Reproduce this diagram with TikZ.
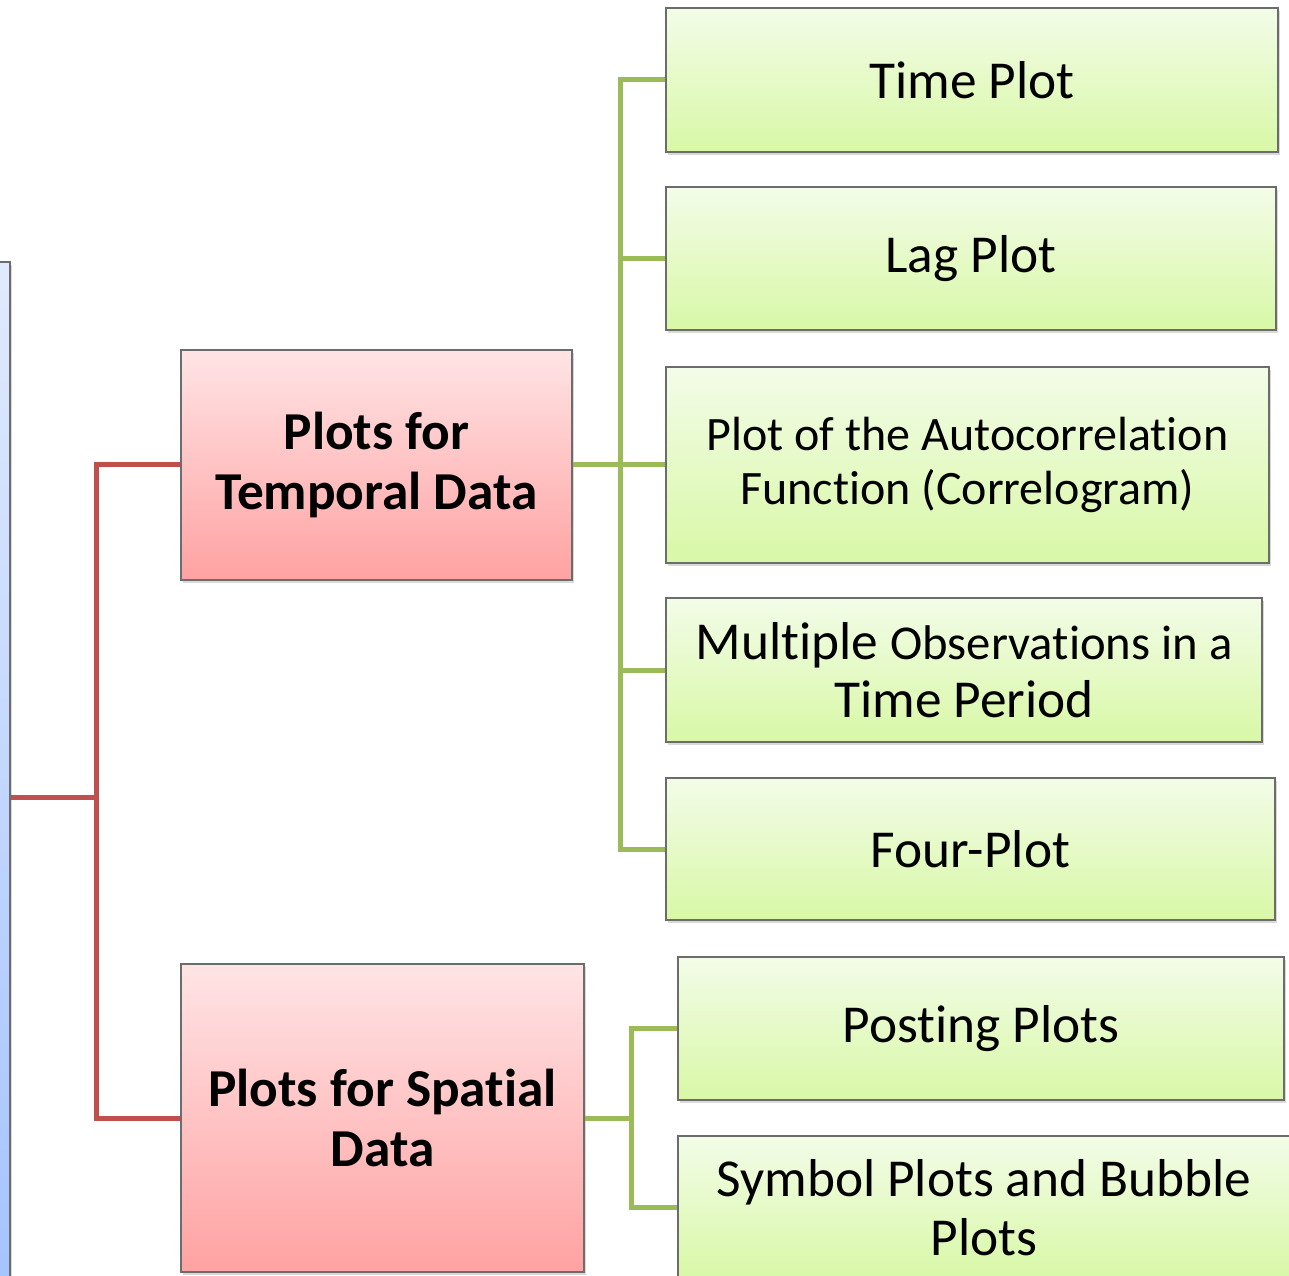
\documentclass[tikz,border=0pt]{standalone}
\usepackage{fontspec}
\setmainfont[RawFeature={-liga;-clig;-calt;-dlig}]{Carlito}
\usetikzlibrary{shadows}

\definecolor{redtop}{HTML}{FFE4E5}
\definecolor{redbot}{HTML}{FFA2A2}
\definecolor{greentop}{HTML}{F3FCE8}
\definecolor{greenbot}{HTML}{D8F8A6}
\definecolor{bluetop}{HTML}{E0EAFF}
\definecolor{bluebot}{HTML}{9FBFFF}
\definecolor{redline}{HTML}{C0504D}
\definecolor{greenline}{HTML}{9BBB59}

\begin{document}
\begin{tikzpicture}[x=0.75pt,y=-0.75pt,line join=miter,
  box/.style={draw=gray!85!black,line width=0.9pt,inner sep=0pt,align=center,
    drop shadow={opacity=0.3,shadow xshift=1.5pt,shadow yshift=-2.5pt}},
  main node/.style={box,top color=redtop,bottom color=redbot,
    font=\fontsize{40}{45}\selectfont\bfseries},
  leaf node/.style={box,top color=greentop,bottom color=greenbot,
    font=\fontsize{40}{44}\selectfont},
  red link/.style={draw=redline,line width=3.75pt},
  green link/.style={draw=greenline,line width=3.75pt}]

  \useasboundingbox (0,0) rectangle (1289,1276);
  \clip (0,0) rectangle (1289,1276);

  \node[box,top color=bluetop,bottom color=bluebot,minimum width=157.5pt,minimum height=853.5pt] (root) at (-95,831) {};

  \node[main node,minimum width=293.25pt,minimum height=172.5pt] (temporal) at (376.5,465) {Plots for\\Temporal Data};
  \node[main node,minimum width=302.25pt,minimum height=231pt] (spatial) at (382.5,1118) {Plots for Spatial\\Data};

  \node[leaf node,minimum width=459pt,minimum height=108pt] (time) at (972,80) {Time Plot};
  \node[leaf node,minimum width=457.5pt,minimum height=107.25pt] (lag) at (971,258.5) {Lag Plot};
  \node[leaf node,minimum width=452.25pt,minimum height=147pt,font=\fontsize{36}{40}\selectfont] (acf) at (967.5,465) {Plot of the Autocorrelation\\Function (Correlogram)};
  \node[leaf node,minimum width=447pt,minimum height=108pt] (multi) at (964,670) {Multiple {\fontsize{36.5}{44}\selectfont Observations in a}\\Time Period};
  \node[leaf node,minimum width=456.75pt,minimum height=106.5pt] (four) at (970.5,849) {Four-Plot};
  \node[leaf node,minimum width=454.5pt,minimum height=107.25pt] (posting) at (981,1028.5) {Posting Plots};
  \node[leaf node,minimum width=459pt,minimum height=107.25pt] (symbol) at (984,1207.5) {Symbol Plots and Bubble\\Plots};

  % joints
  \coordinate (rj) at (96,797);
  \coordinate (tj) at (620,465);
  \coordinate (sj) at (631,1118);

  \path[red link]
    (root.east |- rj) -- (rj)
    (temporal.west) -| (rj)
    (spatial.west) -| (rj);

  \path[green link]
    (temporal.east) -- (tj)
    (time.west) -| (tj)
    (lag.west) -| (tj)
    (acf.west) -- (tj)
    (multi.west) -| (tj)
    (four.west) -| (tj)
    (spatial.east) -- (sj)
    (posting.west) -| (sj)
    (symbol.west) -| (sj);

\end{tikzpicture}
\end{document}
